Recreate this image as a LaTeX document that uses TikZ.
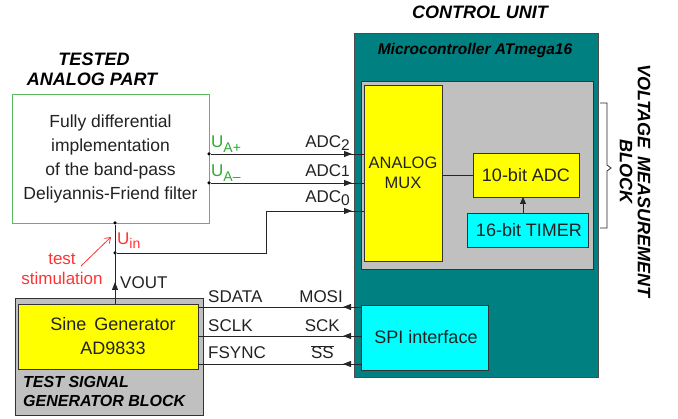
\documentclass[tikz,border=0pt]{standalone}
\usepackage{fontspec}
\setmainfont{Liberation Sans}
\usetikzlibrary{arrows.meta,decorations.markings}
\definecolor{tealc}{HTML}{008080}
\definecolor{grayc}{HTML}{C0C0C0}
\definecolor{yelc}{HTML}{FFFF00}
\definecolor{cyanc}{HTML}{00FFFF}
\definecolor{greenb}{HTML}{5CB85C}
\definecolor{greent}{HTML}{2FA82F}
\definecolor{redt}{HTML}{FF3333}
\definecolor{txt}{HTML}{222222}
\newcommand\lowr[2]{\raisebox{#1}{#2}}
\begin{document}
\begin{tikzpicture}[x=1pt,y=-1pt,
  blk/.style={draw=black!80, line width=0.8pt, inner sep=0pt, outer sep=0pt, anchor=north west, text=txt},
  wire/.style={draw=black!85, line width=0.9pt},
  midtip/.style={postaction={decorate,decoration={markings,mark=at position #1 with {\arrow{Triangle[length=8pt,width=6pt]}}}}},
  jdot/.style={circle, fill=black, inner sep=0pt, minimum size=3.5pt},
  lbl/.style={font=\fontsize{17}{20}\selectfont, inner sep=0pt, text=txt},
  ttl/.style={font=\fontsize{18}{22}\selectfont\bfseries\itshape, inner sep=0pt, text=black},
]
\useasboundingbox (0,0) rectangle (678,419);

% ---- control unit
\node[blk, draw=black!70, fill=tealc, minimum width=244pt, minimum height=344pt] (cu) at (354,33) {};
\node[ttl, anchor=base] (cut) at (480,19) {CONTROL UNIT};
\node[ttl, font=\fontsize{15.5}{18}\selectfont\bfseries\itshape, anchor=base] (mct) at (475,55) {Microcontroller ATmega16};
\node[blk, fill=grayc, minimum width=232pt, minimum height=188pt] (vm) at (361,81) {};
\node[blk, fill=yelc, align=center, font=\fontsize{16.5}{20}\selectfont, minimum width=78pt, minimum height=176pt] (mux) at (364,85) {ANALOG\\MUX};
\node[blk, fill=yelc, font=\fontsize{18}{20}\selectfont, minimum width=106pt, minimum height=44pt] (adc) at (473,153) {10-bit ADC};
\node[blk, fill=cyanc, font=\fontsize{18}{20}\selectfont, minimum width=121pt, minimum height=34pt] (tim) at (467,213) {\hspace{3pt}16-bit TIMER};
\node[blk, fill=cyanc, font=\fontsize{18}{20}\selectfont, minimum width=127pt, minimum height=65pt] (spi) at (361,305) {\hspace{3pt}SPI interface};

\draw[wire] (adc.west -| mux.east) -- (adc.west);
\draw[wire, -{Triangle[length=7pt,width=6pt]}] (tim.north -| 523,0) -- (adc.south -| 523,0);

% brace and rotated title
\draw[line width=0.8pt, black!85] (600,103) -- (607,103) -- (607,165) -- (611,168) -- (607,171) -- (607,228) -- (600,228);
\node[ttl, rotate=-90] (vmt1) at (644,181) {VOLTAGE \,MEASUREMENT};
\node[ttl, rotate=-90] (vmt2) at (626,172) {BLOCK};

% ---- tested analog part
\node[ttl, anchor=base] (tap1) at (94,66) {TESTED};
\node[ttl, anchor=base] (tap2) at (92,86) {ANALOG PART};
\node[blk, draw=greenb, fill=white, align=center, font=\fontsize{17.5}{24}\selectfont, minimum width=197pt, minimum height=129pt] (filt) at (12,94)
  {Fully differential\\implementation\\of the band-pass\\Deliyannis-Friend filter};

\node[jdot] (jp) at (filt.east |- 0,154) {};
\node[jdot] (jm) at (filt.east |- 0,183) {};
\node[jdot] (jin) at (115,223) {};
\node[jdot] (jv) at (115,253) {};

\node[lbl, text=greent, anchor=base west] (uap) at (211,148) {U\lowr{-5pt}{\fontsize{14}{14}\selectfont A+}};
\node[lbl, text=greent, anchor=base west] (uam) at (211,177) {U\lowr{-5pt}{\fontsize{14}{14}\selectfont A–}};

\draw[wire, midtip=-12pt] (jp) -- (jp -| mux.west);
\draw[wire, midtip=-12pt] (jm) -- (jm -| mux.west);
\coordinate (c0) at (266,211);
\draw[wire, midtip=-12pt] (jv) -| (c0) -- (c0 -| mux.west);

\node[lbl, anchor=base east] (a2) at (350,148) {ADC\lowr{-3pt}{\fontsize{15.5}{16}\selectfont 2}};
\node[lbl, anchor=base east] (a1) at (350,177) {ADC{\fontsize{15.5}{16}\selectfont 1}};
\node[lbl, anchor=base east] (a0) at (350,203) {ADC\lowr{-3pt}{\fontsize{15.5}{16}\selectfont 0}};

% ---- test signal generator
\node[blk, fill=grayc, minimum width=188pt, minimum height=117pt] (gen) at (15,298) {};
\node[blk, fill=yelc, minimum width=180pt, minimum height=65pt] (sine) at (18,304) {};
\node[lbl, align=center, font=\fontsize{18}{24}\selectfont] (sinet) at (113,336) {Sine \,Generator\\AD9833};
\node[ttl, font=\fontsize{16}{19}\selectfont\bfseries\itshape, align=left, anchor=north west] (gent) at (23,376) {TEST SIGNAL\\GENERATOR BLOCK};

\draw[wire, midtip=22pt] (sine.north -| jin) -- (jin);
\node[lbl, anchor=base west] (vout) at (120,289) {VOUT};

\node[lbl, text=redt, anchor=base west] (uin) at (117,245) {U\lowr{-4pt}{\fontsize{14}{14}\selectfont in}};
\node[lbl, text=redt, align=center, font=\fontsize{17}{20}\selectfont] (stim) at (62,269) {test\\stimulation};
\coordinate (rs) at (81,266);
\coordinate (re) at (111,237);
\draw[redt, line width=0.8pt, -{Straight Barb[length=5pt,width=7pt]}] (rs) -- (re);

% SPI lines
\draw[wire, midtip=18pt] (spi.west |- 0,307) -- (sine.east |- 0,307);
\draw[wire, midtip=18pt] (spi.west |- 0,336) -- (sine.east |- 0,336);
\draw[wire, midtip=18pt] (spi.west |- 0,364) -- (sine.east |- 0,364);

\node[lbl, anchor=base west] (sd) at (208,303) {SDATA};
\node[lbl, anchor=base west] (sc) at (208,332) {SCLK};
\node[lbl, anchor=base west] (fs) at (208,359) {FSYNC};
\node[lbl, anchor=base east] (mo) at (343,303) {MOSI};
\node[lbl, anchor=base east] (sk) at (340,332) {SCK};
\node[lbl, anchor=base east] (ss) at (334,359) {$\overline{\mbox{SS}}$};
\end{tikzpicture}
\end{document}
